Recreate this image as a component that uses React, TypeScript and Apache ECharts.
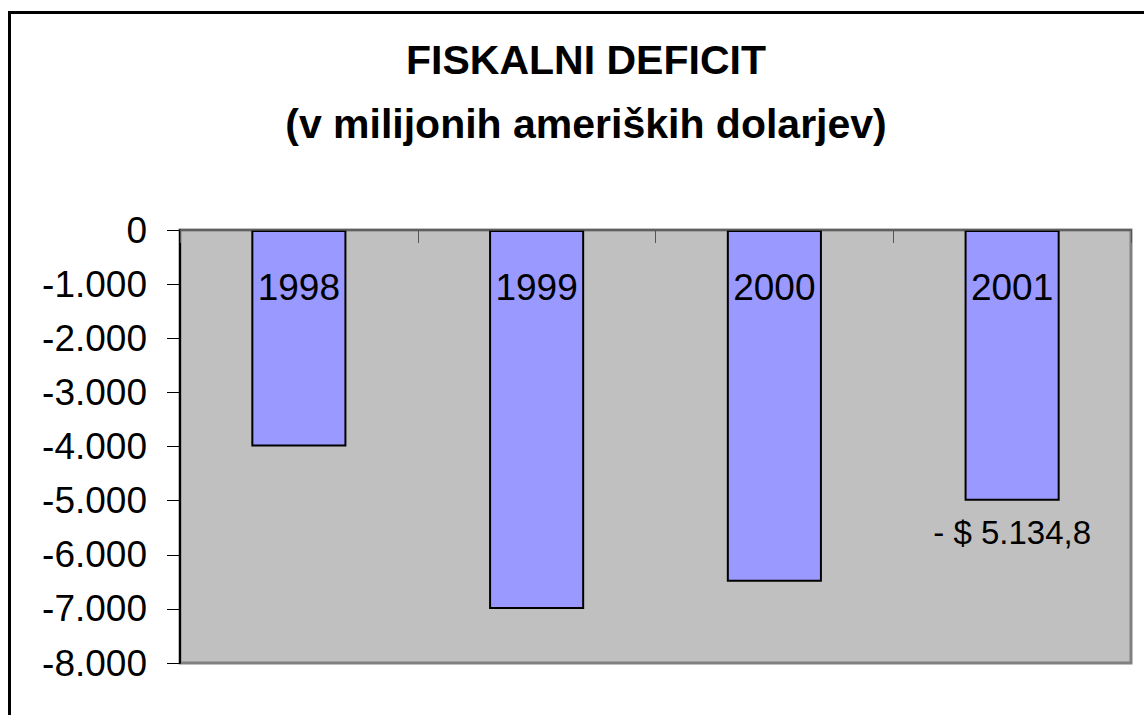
import React, { useEffect, useRef } from "react";
import * as echarts from "echarts";

const years = ["1998", "1999", "2000", "2001"];
const deficitValues = [-4000, -7000, -6500, -5000];
const barLabels = ["", "", "", "- $ 5.134,8"];
const titleLines = ["FISKALNI DEFICIT", "(v milijonih ameriških dolarjev)"];
const yMin = -8000;
const yMax = 0;
const yInterval = 1000;

const FONT = "'Liberation Sans', Arial, Helvetica, sans-serif";

function fmt(v: number): string {
  const s = Math.abs(v)
    .toString()
    .replace(/\B(?=(\d{3})+(?!\d))/g, ".");
  return (v < 0 ? "-" : "") + s;
}

export default function App() {
  const ref = useRef<HTMLDivElement>(null);
  useEffect(() => {
    if (!ref.current) return;
    const chart = echarts.init(ref.current, undefined, { renderer: "svg" });
    chart.setOption({
      animation: false,
      backgroundColor: "#FFFFFF",
      title: {
        text: titleLines.join("\n"),
        left: 586,
        textAlign: "center",
        top: 28,
        padding: 0,
        textStyle: {
          fontFamily: FONT,
          fontWeight: "bold",
          fontSize: 41,
          lineHeight: 64,
          color: "#000",
        },
      },
      graphic: [
        {
          type: "rect",
          shape: { x: 9.5, y: 12.5, width: 1300, height: 900 },
          style: { fill: "none", stroke: "#000", lineWidth: 3 },
          z: 100,
        },
      ],
      grid: {
        left: 180,
        right: 13,
        top: 230,
        bottom: 52,
        show: true,
        backgroundColor: "#C0C0C0",
        borderColor: "#808080",
        borderWidth: 3,
      },
      xAxis: {
        type: "category",
        data: years,
        position: "top",
        axisLine: { show: true, lineStyle: { color: "#555", width: 1.5 } },
        axisTick: { show: true, inside: true, length: 13, lineStyle: { color: "#555", width: 1 } },
        axisLabel: {
          inside: true,
          margin: 57,
          fontSize: 37,
          fontFamily: FONT,
          color: "#000",
          verticalAlign: "middle",
        },
        z: 5,
      },
      yAxis: {
        type: "value",
        min: yMin,
        max: yMax,
        interval: yInterval,
        axisLine: { show: true, lineStyle: { color: "#000", width: 2 } },
        axisTick: { show: true, length: 13, lineStyle: { color: "#000", width: 1 } },
        splitLine: { show: false },
        axisLabel: {
          margin: 33,
          fontSize: 37,
          fontFamily: FONT,
          color: "#000",
          formatter: (v: number) => fmt(v),
        },
      },
      series: [
        {
          type: "bar",
          barWidth: "40%",
          itemStyle: { color: "#9999FF", borderColor: "#000", borderWidth: 2 },
          data: deficitValues.map((v, i) => ({
            value: v,
            label: {
              show: barLabels[i] !== "",
              position: "bottom",
              distance: 15,
              formatter: barLabels[i],
              fontSize: 33,
              fontFamily: FONT,
              color: "#000",
            },
          })),
        },
      ],
    });
    return () => chart.dispose();
  }, []);
  return (
    <div
      ref={ref}
      style={{ position: "fixed", left: 0, top: 0, width: 1144, height: 715, background: "#fff" }}
    />
  );
}
